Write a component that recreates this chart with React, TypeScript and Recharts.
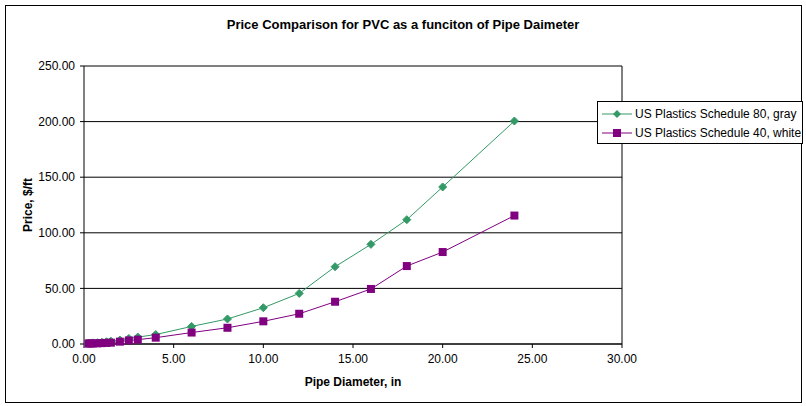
import React from 'react';
import {
    LineChart, Line, XAxis, YAxis, CartesianGrid, ReferenceLine,
} from 'recharts';

const FONT = 'Arial, "Liberation Sans", sans-serif';
const GREEN = '#339966';
const PURPLE = '#800080';

// pipe diameters, in
const sch80Diam = [0.125, 0.25, 0.375, 0.5, 0.75, 1, 1.25, 1.5, 2, 2.5, 3, 4, 6, 8, 10, 12, 14, 16, 18, 20, 24];
const sch40Diam = [0.25, 0.375, 0.5, 0.75, 1, 1.25, 1.5, 2, 2.5, 3, 4, 6, 8, 10, 12, 14, 16, 18, 20, 24];

// price, $/ft
const sch80Price = [0.6, 0.7, 0.8, 1.0, 1.2, 1.6, 2.0, 2.5, 3.5, 5.0, 6.2, 8.5, 15.8, 22.5, 32.6, 45.5, 69.5, 89.6, 111.8, 141.2, 200.5];
const sch40Price = [0.4, 0.5, 0.5, 0.6, 0.8, 1.0, 1.2, 2.1, 3.2, 3.9, 5.7, 10.3, 14.6, 20.4, 27.2, 38.0, 49.5, 70.1, 82.7, 115.5];

const xTicks = [0, 5, 10, 15, 20, 25, 30];
const yTicks = [0, 50, 100, 150, 200, 250];

const seriesNames = ['US Plastics Schedule 80, gray', 'US Plastics Schedule 40, white'];

const sch80 = sch80Diam.map((d, i) => ({ d, price: sch80Price[i] }));
const sch40 = sch40Diam.map((d, i) => ({ d, price: sch40Price[i] }));

const Diamond = (props: any) => {
    const { cx, cy } = props;
    if (cx == null || cy == null) return null;
    const r = 4;
    return (
        <path
            d={`M${cx},${cy - r} L${cx + r},${cy} L${cx},${cy + r} L${cx - r},${cy} Z`}
            fill={GREEN} stroke={GREEN}
        />
    );
};

const Square = (props: any) => {
    const { cx, cy } = props;
    if (cx == null || cy == null) return null;
    return <rect x={cx - 4} y={cy - 4} width={8} height={8} fill={PURPLE} />;
};

const LegendBox = () => (
    <div style={{
        position: 'absolute', left: 597, top: 101,
        border: '1px solid #000', background: '#fff', width: 206, height: 43,
        boxSizing: 'border-box', fontFamily: FONT, fontSize: 12, color: '#000',
        padding: '2px 0 0 3px',
    }}>
        {seriesNames.map((name, i) => (
            <div key={name} style={{ display: 'flex', alignItems: 'center', height: 19 }}>
                <svg width={32} height={10} style={{ marginRight: 2 }}>
                    <line x1={1} y1={5} x2={31} y2={5} stroke={i === 0 ? GREEN : PURPLE} />
                    {i === 0
                        ? <path d="M16,1 L20,5 L16,9 L12,5 Z" fill={GREEN} />
                        : <rect x={12} y={1} width={8} height={8} fill={PURPLE} />}
                </svg>
                <span style={{ whiteSpace: 'nowrap' }}>{name}</span>
            </div>
        ))}
    </div>
);

export default function App() {
    const tick = { fill: '#000', fontSize: 12, fontFamily: FONT };
    return (
        <div style={{ position: 'fixed', left: 0, top: 0, width: 806, height: 406, background: '#fff' }}>
            <div style={{
                position: 'absolute', left: 5, top: 5, width: 797, height: 398,
                border: '1px solid #000', boxSizing: 'border-box',
            }} />
            <div style={{
                position: 'absolute', left: 0, width: 806, top: 17, textAlign: 'center',
                fontFamily: FONT, fontWeight: 'bold', fontSize: 13,
            }}>
                Price Comparison for PVC as a funciton of Pipe Daimeter
            </div>
            <div style={{
                position: 'absolute', left: 84, width: 538, top: 375, textAlign: 'center',
                fontFamily: FONT, fontWeight: 'bold', fontSize: 12,
            }}>
                Pipe Diameter, in
            </div>
            <div style={{
                position: 'absolute', left: 28, top: 205, transform: 'translate(-50%, -50%) rotate(-90deg)',
                fontFamily: FONT, fontWeight: 'bold', fontSize: 12, whiteSpace: 'nowrap',
            }}>
                Price, $/ft
            </div>
            <div style={{ position: 'absolute', left: 0, top: 0 }}>
                <LineChart width={806} height={406} margin={{ top: 66, right: 184, left: 24, bottom: 32 }}>
                    <CartesianGrid vertical={false} stroke="#000" strokeOpacity={1} />
                    <XAxis
                        type="number" dataKey="d" domain={[0, 30]} ticks={xTicks} height={30}
                        tick={{ ...tick, dy: 4 }} tickFormatter={(v: number) => v.toFixed(2)}
                        axisLine={{ stroke: '#000' }} tickLine={{ stroke: '#000' }} tickSize={4}
                        allowDataOverflow
                    />
                    <YAxis
                        type="number" domain={[0, 250]} ticks={yTicks} width={60}
                        tick={{ ...tick, dx: -3 }} tickFormatter={(v: number) => v.toFixed(2)}
                        axisLine={{ stroke: '#000' }} tickLine={{ stroke: '#000' }} tickSize={4}
                    />
                    <ReferenceLine x={30} stroke="#000" />
                    <Line
                        data={sch80} dataKey="price" name={seriesNames[0]} type="linear"
                        stroke={GREEN} strokeWidth={1} dot={<Diamond />} activeDot={false}
                        isAnimationActive={false}
                    />
                    <Line
                        data={sch40} dataKey="price" name={seriesNames[1]} type="linear"
                        stroke={PURPLE} strokeWidth={1} dot={<Square />} activeDot={false}
                        isAnimationActive={false}
                    />
                </LineChart>
            </div>
            <LegendBox />
        </div>
    );
}
